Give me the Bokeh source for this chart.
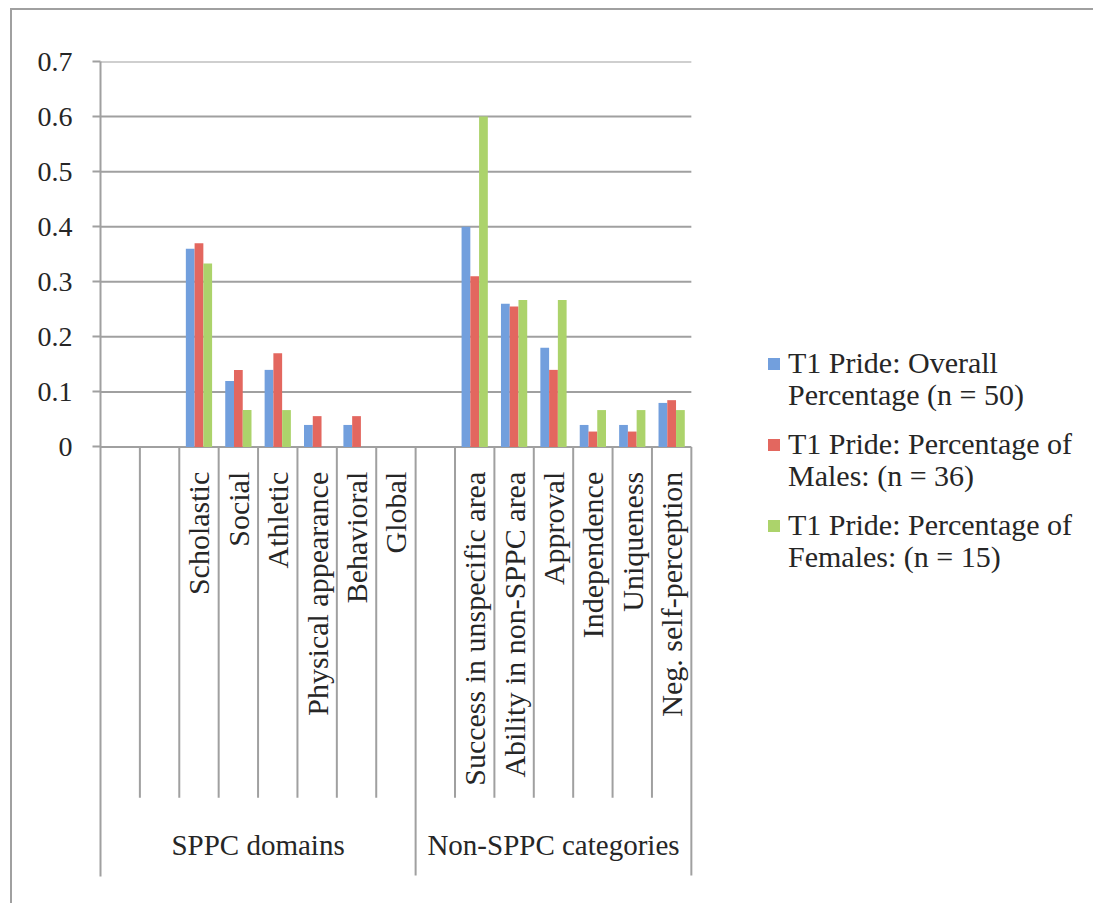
from math import pi

from bokeh.core.properties import value
from bokeh.embed import file_html
from bokeh.models import ColumnDataSource, FixedTicker, Legend, LegendItem, Range1d
from bokeh.plotting import figure
from bokeh.resources import INLINE
from bokeh.transform import dodge

# ---- data -----------------------------------------------------------------
groups = ["SPPC domains", "Non-SPPC categories"]
group_sizes = [8, 7]
categories = [
    "", "", "Scholastic", "Social", "Athletic", "Physical appearance", "Behavioral", "Global",
    "", "Success in unspecific area", "Ability in non-SPPC area", "Approval",
    "Independence", "Uniqueness", "Neg. self-perception",
]
overall = [0, 0, 0.36, 0.12, 0.14, 0.04, 0.04, 0, 0, 0.40, 0.26, 0.18, 0.04, 0.04, 0.08]
males = [0, 0, 0.37, 0.14, 0.17, 0.056, 0.056, 0, 0, 0.31, 0.255, 0.14, 0.028, 0.028, 0.085]
females = [0, 0, 0.333, 0.067, 0.067, 0, 0, 0, 0, 0.60, 0.267, 0.267, 0.067, 0.067, 0.067]
series_first_line = ["T1 Pride: Overall", "T1 Pride: Percentage of", "T1 Pride: Percentage of"]
series_second_line = ["Percentage (n = 50)", "Males: (n = 36)", "Females: (n = 15)"]
y_ticks = [0, 0.1, 0.2, 0.3, 0.4, 0.5, 0.6, 0.7]
y_tick_labels = ["0", "0.1", "0.2", "0.3", "0.4", "0.5", "0.6", "0.7"]

# ---- styling --------------------------------------------------------------
FONT = "Liberation Serif"
TEXT = "#262626"
GRID = "#a0a0a0"
COLORS = ["#729fdd", "#e3675f", "#acd36b"]

n = len(categories)
SLOT_PX = 39.39          # width of one category slot on screen
FRAME_W = 995            # plot frame reaches the right edge; legend sits inside it

p = figure(
    width=1083, height=895,
    x_range=Range1d(0, FRAME_W / SLOT_PX), y_range=Range1d(-0.78, 0.7),
    x_axis_location=None,
    output_backend="svg", toolbar_location=None,
    min_border_left=88, min_border_right=0, min_border_top=51, min_border_bottom=29,
    background_fill_color="white", border_fill_color="white",
    margin=(8, 0, 0, 10),
    styles={"border-top": f"2px solid {GRID}", "border-left": f"2px solid {GRID}"},
)
p.outline_line_color = None
p.xgrid.visible = False
p.ygrid.visible = False

ticker = FixedTicker(ticks=y_ticks)
yax = p.yaxis[0]
yax.ticker = ticker
yax.major_label_overrides = dict(zip(y_ticks, y_tick_labels))
yax.axis_line_color = GRID
yax.axis_line_width = 2
yax.major_tick_line_color = GRID
yax.major_tick_line_width = 2
yax.major_tick_out = 8
yax.major_tick_in = 0
yax.minor_tick_out = 0
yax.minor_tick_in = 0
yax.major_label_standoff = 20
yax.major_label_text_font = FONT
yax.major_label_text_font_size = "28px"
yax.major_label_text_color = TEXT

# horizontal gridlines span only the category slots
p.segment(x0=[0] * len(y_ticks), y0=y_ticks, x1=[n] * len(y_ticks), y1=y_ticks,
          line_color=GRID, line_width=2)

# ---- clustered bars -------------------------------------------------------
src = ColumnDataSource(dict(
    x=[i + 0.5 for i in range(n)],
    overall=overall, males=males, females=females,
))
bw = 1 / 4.5
renderers = []
for off, col, color in zip([-bw, 0, bw], ["overall", "males", "females"], COLORS):
    r = p.vbar(x=dodge("x", off, range=p.x_range), top=col, bottom=0, width=bw,
               source=src, fill_color=color, line_color=None)
    renderers.append(r)

# ---- two-level category axis drawn below the zero line --------------------
group_edges = []
acc = 0
for s in group_sizes:
    acc += s
    group_edges.append(acc)
inner_edges = [i for i in range(1, n) if i not in group_edges]

p.segment(x0=inner_edges, y0=[0] * len(inner_edges), x1=inner_edges,
          y1=[-0.637] * len(inner_edges), line_color=GRID, line_width=2)
p.segment(x0=group_edges, y0=[0] * len(group_edges), x1=group_edges,
          y1=[-0.778] * len(group_edges), line_color=GRID, line_width=2)

p.text(x=[i + 0.5 for i in range(n)], y=[-0.045] * n, text=categories,
       angle=pi / 2, text_align="right", text_baseline="middle",
       text_font=value(FONT), text_font_size="30px", text_color=TEXT)

starts = [0] + group_edges[:-1]
p.text(x=[(a + b) / 2 for a, b in zip(starts, group_edges)], y=[-0.723] * len(groups),
       text=groups, text_align="center", text_baseline="middle",
       text_font=value(FONT), text_font_size="29px", text_color=TEXT)

# ---- legend: swatch beside the first line, second line wrapped below ------
legend_style = dict(
    padding=0, margin=0, border_line_color=None, background_fill_alpha=0,
    label_text_font=FONT, label_text_font_size="30px", label_text_color=TEXT,
    glyph_height=15, spacing=47,
)
legend_top = Legend(
    items=[LegendItem(label=value(t), renderers=[r]) for t, r in zip(series_first_line, renderers)],
    location=(666, 334), glyph_width=15, label_standoff=7, **legend_style,
)
legend_wrap = Legend(
    items=[LegendItem(label=value(t), renderers=[r]) for t, r in zip(series_second_line, renderers)],
    location=(666, 302), glyph_width=0, label_standoff=22, **legend_style,
)
p.add_layout(legend_top, "center")
p.add_layout(legend_wrap, "center")

open("out.html", "w").write(file_html(p, INLINE))
